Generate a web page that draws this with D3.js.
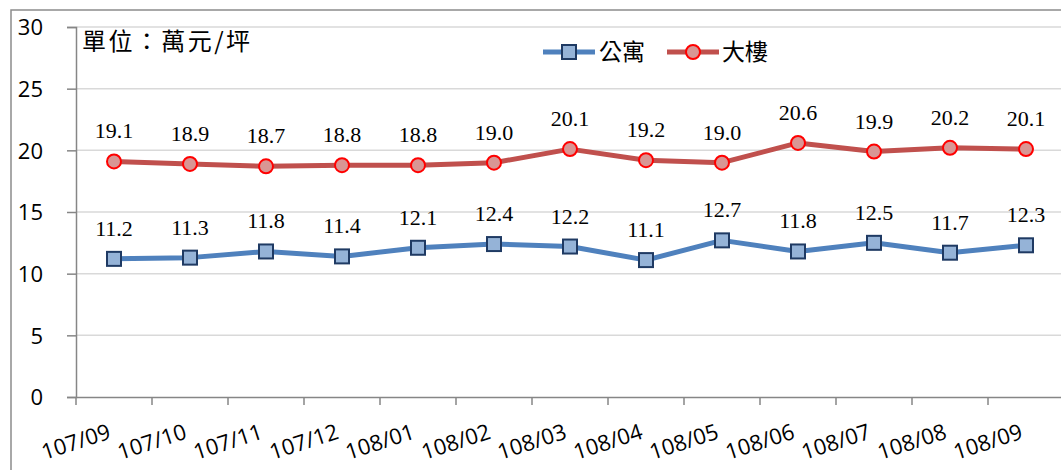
<!DOCTYPE html>
<html><head><meta charset="utf-8">
<script src="https://cdn.jsdelivr.net/npm/d3@7"></script>
<style>body{margin:0;background:#fff}svg{display:block}</style>
</head><body>
<svg id="c" width="1061" height="470"></svg>
<script>
const categories = ["107/09","107/10","107/11","107/12","108/01","108/02","108/03","108/04","108/05","108/06","108/07","108/08","108/09"];
const apartment = [11.2,11.3,11.8,11.4,12.1,12.4,12.2,11.1,12.7,11.8,12.5,11.7,12.3];
const building = [19.1,18.9,18.7,18.8,18.8,19.0,20.1,19.2,19.0,20.6,19.9,20.2,20.1];
const yTicks = [0,5,10,15,20,25,30];
const seriesNames = ["公寓","大樓"];
const unitLabel = "單位：萬元/坪";

const svg = d3.select("#c");
const L = 76, R = 1064, T = 27, B = 397;
const x = d3.scaleBand().domain(categories).range([L, R]);
const y = d3.scaleLinear().domain([0, 30]).range([B, T]);
const sans = "'Open Sans', sans-serif";
const cjk = "'Noto Sans CJK TC', sans-serif";

// outer chart border
svg.append("rect").attr("x", 11).attr("y", 10).attr("width", 1100).attr("height", 500)
  .attr("fill", "none").attr("stroke", "#8c8c8c").attr("stroke-width", 1.5);

// gridlines
svg.append("g").selectAll("line").data(yTicks.filter(d => d > 0)).join("line")
  .attr("x1", L).attr("x2", R).attr("y1", d => y(d)).attr("y2", d => y(d))
  .attr("stroke", "#d9d9d9").attr("stroke-width", 1.5);

// y axis
const ya = svg.append("g").attr("transform", `translate(${L},0)`)
  .call(d3.axisLeft(y).tickValues(yTicks).tickSize(9).tickPadding(24));
ya.select(".domain").attr("stroke", "#868686").attr("stroke-width", 1.5);
ya.selectAll(".tick line").attr("stroke", "#868686").attr("stroke-width", 1.5);
ya.selectAll(".tick text").attr("font-family", sans).attr("font-size", 22).attr("fill", "#000").attr("dy", "0.35em");

// x axis
const xa = svg.append("g").attr("transform", `translate(0,${B})`)
  .call(d3.axisBottom(x).tickSize(0).tickFormat(""));
xa.select(".domain").attr("stroke", "#868686").attr("stroke-width", 1.5);
const bounds = categories.map(c => x(c));
svg.append("g").selectAll("line").data(bounds).join("line")
  .attr("x1", d => d).attr("x2", d => d).attr("y1", B).attr("y2", B + 8)
  .attr("stroke", "#868686").attr("stroke-width", 1.5);
svg.append("g").selectAll("text").data(categories).join("text")
  .attr("transform", d => `translate(${x(d) + x.bandwidth() / 2 - 2},${B + 41}) rotate(-18)`)
  .attr("text-anchor", "end").attr("font-family", sans).attr("font-size", 22).attr("fill", "#000")
  .text(d => d);

const cx = d => x(d) + x.bandwidth() / 2;
const line = arr => d3.line().x((d, i) => cx(categories[i])).y(d => y(d))(arr);

// building (red)
svg.append("path").attr("d", line(building)).attr("fill", "none")
  .attr("stroke", "#C0504D").attr("stroke-width", 5).attr("stroke-linejoin", "round");
svg.append("g").selectAll("circle").data(building).join("circle")
  .attr("cx", (d, i) => cx(categories[i])).attr("cy", d => y(d)).attr("r", 7)
  .attr("fill", "#D99694").attr("stroke", "#FF0000").attr("stroke-width", 2);

// apartment (blue)
svg.append("path").attr("d", line(apartment)).attr("fill", "none")
  .attr("stroke", "#4F81BD").attr("stroke-width", 5).attr("stroke-linejoin", "round");
svg.append("g").selectAll("rect").data(apartment).join("rect")
  .attr("x", (d, i) => cx(categories[i]) - 7).attr("y", d => y(d) - 7)
  .attr("width", 14).attr("height", 14)
  .attr("fill", "#95B3D7").attr("stroke", "#1F3A63").attr("stroke-width", 2);

// data labels
const serif = "'Liberation Serif', 'Times New Roman', serif";
[apartment, building].forEach(arr => {
  svg.append("g").selectAll("text").data(arr).join("text")
    .attr("x", (d, i) => cx(categories[i])).attr("y", d => y(d) - 23)
    .attr("text-anchor", "middle").attr("font-family", serif).attr("font-size", 22).attr("fill", "#000")
    .text(d => d.toFixed(1));
});

// unit label
svg.append("text").attr("x", 82).attr("y", 50).attr("font-family", cjk)
  .attr("font-size", 24).attr("fill", "#000")
  .attr("textLength", 168).attr("lengthAdjust", "spacing").text(unitLabel);

// legend
const lg = svg.append("g");
lg.append("line").attr("x1", 543).attr("x2", 595).attr("y1", 52).attr("y2", 52)
  .attr("stroke", "#4F81BD").attr("stroke-width", 5);
lg.append("rect").attr("x", 562).attr("y", 45).attr("width", 14).attr("height", 14)
  .attr("fill", "#95B3D7").attr("stroke", "#1F3A63").attr("stroke-width", 2);
lg.append("text").attr("x", 599).attr("y", 60).attr("font-family", cjk)
  .attr("font-size", 23).text(seriesNames[0]);
lg.append("line").attr("x1", 667).attr("x2", 719).attr("y1", 52).attr("y2", 52)
  .attr("stroke", "#C0504D").attr("stroke-width", 5);
lg.append("circle").attr("cx", 693).attr("cy", 52).attr("r", 7)
  .attr("fill", "#D99694").attr("stroke", "#FF0000").attr("stroke-width", 2);
lg.append("text").attr("x", 722).attr("y", 60).attr("font-family", cjk)
  .attr("font-size", 23).text(seriesNames[1]);
</script>
</body></html>
